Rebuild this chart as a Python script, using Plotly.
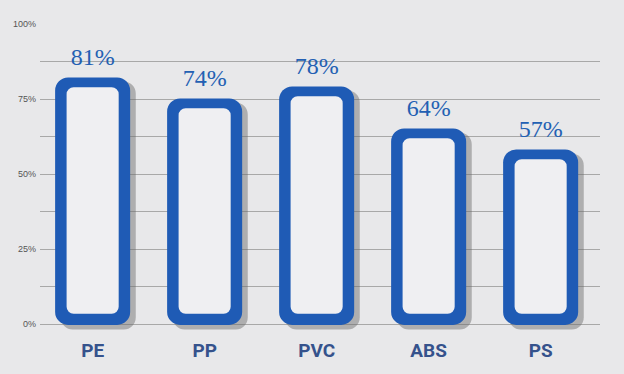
import plotly.graph_objects as go

categories = ["PE", "PP", "PVC", "ABS", "PS"]
values = [81, 74, 78, 64, 57]
value_labels = ["81%", "74%", "78%", "64%", "57%"]
tick_vals = [0, 12.5, 25, 37.5, 50, 62.5, 75, 87.5, 100]
tick_text = ["0%", "", "25%", "", "50%", "", "75%", "", "100%"]

idx = list(range(len(categories)))
px_per_unit = 303 / 100.0
top_pad = 1.2
border = 10 / px_per_unit
inner_base = 3.4
shadow_base = -5.5 / px_per_unit

fig = go.Figure()
# shadow
fig.add_trace(go.Bar(x=idx, y=[v + top_pad - 1.4 - shadow_base for v in values], base=shadow_base,
                     width=0.67, offset=-0.335 + 0.05,
                     marker=dict(color="rgba(105,105,105,0.45)", cornerradius=12, line=dict(width=0)),
                     hoverinfo="skip", showlegend=False))
# outer blue
fig.add_trace(go.Bar(x=idx, y=[v + top_pad + 0.3 for v in values], base=-0.3,
                     width=0.67,
                     marker=dict(color="#1f5bb5", cornerradius=13, line=dict(width=0)),
                     hoverinfo="skip", showlegend=False))
# inner light
fig.add_trace(go.Bar(x=idx, y=[v + top_pad - border - inner_base for v in values], base=inner_base,
                     width=0.465,
                     marker=dict(color="#efeff2", cornerradius=7, line=dict(width=0)),
                     hoverinfo="skip", showlegend=False))
# value labels
fig.add_trace(go.Scatter(x=idx, y=[v + top_pad + 2.0 for v in values], mode="text", text=value_labels,
                         textposition="top center",
                         textfont=dict(family="Liberation Serif, DejaVu Serif, serif", size=24, color="#2360b3"),
                         hoverinfo="skip", showlegend=False))

fig.update_layout(
    width=624, height=374,
    margin=dict(l=40, r=24, t=24, b=38),
    paper_bgcolor="#e8e8ea",
    plot_bgcolor="rgba(0,0,0,0)",
    barmode="overlay",
    xaxis=dict(range=[-0.47, 4.53], tickvals=idx, ticktext=categories,
               showgrid=False, zeroline=False, showline=False, ticks="",
               tickfont=dict(family="Roboto, Liberation Sans, sans-serif",
                             size=19, color="#35528c", weight="bold"),
               ticklabelstandoff=4),
    yaxis=dict(range=[-3, 100], tickvals=tick_vals, ticktext=tick_text,
               showgrid=True, gridcolor="#a8a8a8", gridwidth=1, zeroline=False,
               showline=False, ticks="",
               tickfont=dict(family="Arial, Liberation Sans, sans-serif", size=9, color="#555555"),
               ticklabelstandoff=3),
    font=dict(family="Liberation Sans, Arial, sans-serif"),
)

fig.write_html("out.html", config={"displayModeBar": False},
               post_script="document.body.style.margin='0';document.body.style.overflow='hidden';")
